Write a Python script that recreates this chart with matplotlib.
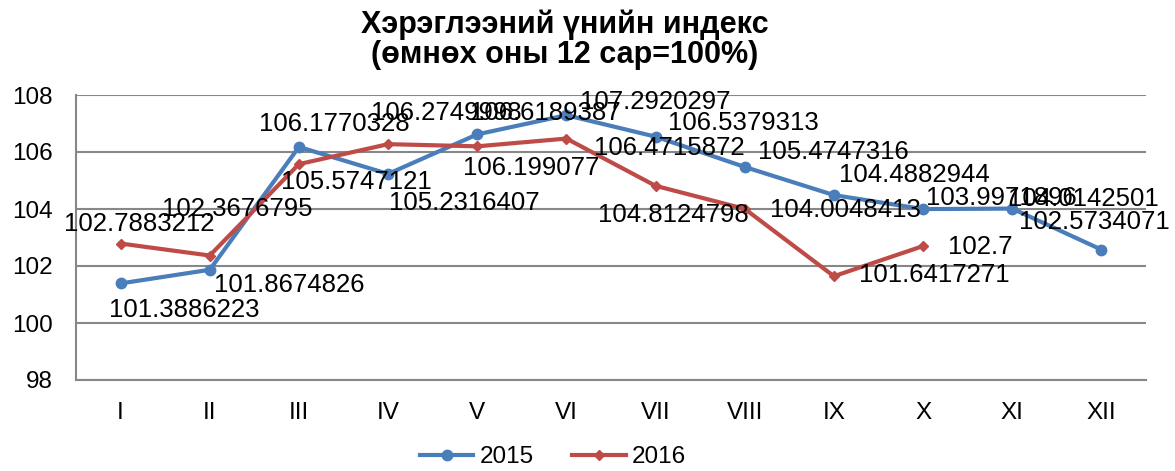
import matplotlib.pyplot as plt

plt.rcParams['font.family'] = ['Liberation Sans', 'DejaVu Sans']

months = ['I', 'II', 'III', 'IV', 'V', 'VI', 'VII', 'VIII', 'IX', 'X', 'XI', 'XII']
cpi_2015 = [101.3886223, 101.8674826, 106.1770328, 105.2316407, 106.6189387, 107.2920297,
            106.5379313, 105.4747316, 104.4882944, 103.9971896, 104.0142501, 102.5734071]
cpi_2016 = [102.7883212, 102.3676795, 105.5747121, 106.2749998, 106.199077, 106.4715872,
            104.8124798, 104.0048413, 101.6417271, 102.7]
labels_2015 = ['101.3886223', '101.8674826', '106.1770328', '105.2316407', '106.6189387', '107.2920297',
               '106.5379313', '105.4747316', '104.4882944', '103.9971896', '104.0142501', '102.5734071']
labels_2016 = ['102.7883212', '102.3676795', '105.5747121', '106.2749998', '106.199077', '106.4715872',
               '104.8124798', '104.0048413', '101.6417271', '102.7']

# label offsets in pixels (dx right, dy down), as placed in the original chart
offsets_2015 = [(64, 27), (79, 15), (35, -23), (76, 29), (68, -21), (89, -13),
                (88, -14), (89, -15), (80, -20), (78, -11), (71, -10), (-7, -28)]
offsets_2016 = [(19, -20), (28, -47), (57, 18), (58, -31), (54, 22), (103, 9),
                (18, 29), (101, 1), (100, -1), (57, 1)]

BLUE = '#4A7EBB'
RED = '#BE4B48'
GRID = '#878787'

fig = plt.figure(figsize=(11.75, 4.71), dpi=100)
ax = fig.add_axes([76 / 1175, 1 - 380 / 471, 1070 / 1175, 285 / 471])

x = list(range(len(months)))
ax.plot(x, cpi_2015, color=BLUE, lw=3, marker='o', ms=7.5, label='2015', zorder=3)
ax.plot(x[:len(cpi_2016)], cpi_2016, color=RED, lw=3, marker='D', ms=5.5, label='2016', zorder=3)

for xi, v, t, (dx, dy) in zip(x, cpi_2015, labels_2015, offsets_2015):
    ax.annotate(t, (xi, v), xytext=(dx, -dy), textcoords='offset pixels',
                ha='center', va='center', fontsize=18.5, color='black', zorder=5)
for xi, v, t, (dx, dy) in zip(x, cpi_2016, labels_2016, offsets_2016):
    ax.annotate(t, (xi, v), xytext=(dx, -dy), textcoords='offset pixels',
                ha='center', va='center', fontsize=18.5, color='black', zorder=5)

ax.set_xlim(-0.5, len(months) - 0.5)
ax.set_ylim(98, 108)
ax.set_yticks([98, 100, 102, 104, 106, 108])
ax.set_xticks(x)
ax.set_xticklabels(months)
ax.tick_params(axis='both', length=0, labelsize=17.5)
ax.tick_params(axis='x', pad=16)
ax.tick_params(axis='y', pad=17)

ax.yaxis.grid(True, color=GRID, lw=1.5)
ax.set_axisbelow(True)
for s in ['top', 'right']:
    ax.spines[s].set_visible(False)
for s in ['left', 'bottom']:
    ax.spines[s].set_color(GRID)
    ax.spines[s].set_linewidth(1.5)

fig.text(565 / 1175, 1 - 40 / 471, 'Хэрэглээний үнийн индекс\n(өмнөх оны 12 сар=100%)',
         ha='center', va='center', fontsize=22, fontweight='bold', linespacing=1.0)

fig.legend(loc='center', bbox_to_anchor=(553 / 1175, 1 - 457 / 471), ncol=2, frameon=False,
           fontsize=17.5, handlelength=2.2, columnspacing=1.6, handletextpad=0.25)

fig.savefig('out.png', dpi=100)
